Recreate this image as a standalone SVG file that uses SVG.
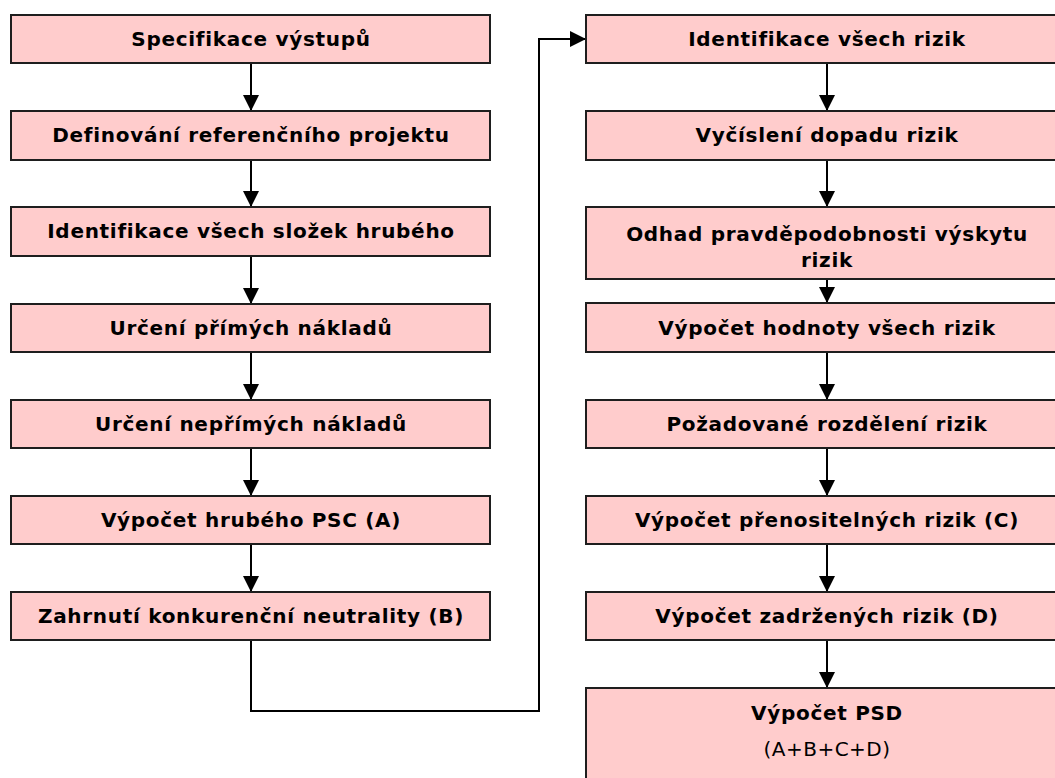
<svg xmlns="http://www.w3.org/2000/svg" width="1055" height="778" viewBox="0 0 1055 778">
<style>
.box{fill:#ffcccc;stroke:#1e1e1e;stroke-width:2}
.t{font-family:"DejaVu Sans",Verdana,sans-serif;font-weight:bold;font-size:20px;letter-spacing:0.7px;fill:#000;text-anchor:middle}
.r{font-family:"DejaVu Sans",Verdana,sans-serif;font-size:20px;letter-spacing:0.5px;fill:#000;text-anchor:middle}
.c{fill:none;stroke:#000;stroke-width:2}
</style>
<defs>
<marker id="ah" markerUnits="userSpaceOnUse" markerWidth="16" markerHeight="16" refX="16" refY="8" orient="auto">
<path d="M0,0 L16,8 L0,16 z" fill="#000"/>
</marker>
</defs>
<rect width="1055" height="778" fill="#fff"/>
<g id="connectors">
<line class="c" x1="251" y1="63" x2="251" y2="111" marker-end="url(#ah)"/>
<line class="c" x1="251" y1="160" x2="251" y2="207" marker-end="url(#ah)"/>
<line class="c" x1="251" y1="256" x2="251" y2="304" marker-end="url(#ah)"/>
<line class="c" x1="251" y1="352" x2="251" y2="400" marker-end="url(#ah)"/>
<line class="c" x1="251" y1="448" x2="251" y2="496" marker-end="url(#ah)"/>
<line class="c" x1="251" y1="544" x2="251" y2="592" marker-end="url(#ah)"/>
<path class="c" d="M251,640 V711 H539 V39 H586" marker-end="url(#ah)"/>
<line class="c" x1="827" y1="63" x2="827" y2="111" marker-end="url(#ah)"/>
<line class="c" x1="827" y1="160" x2="827" y2="207" marker-end="url(#ah)"/>
<line class="c" x1="827" y1="279" x2="827" y2="303" marker-end="url(#ah)"/>
<line class="c" x1="827" y1="352" x2="827" y2="400" marker-end="url(#ah)"/>
<line class="c" x1="827" y1="448" x2="827" y2="496" marker-end="url(#ah)"/>
<line class="c" x1="827" y1="544" x2="827" y2="592" marker-end="url(#ah)"/>
<line class="c" x1="827" y1="640" x2="827" y2="688" marker-end="url(#ah)"/>
</g>
<g id="n1"><rect class="box" x="11" y="15" width="479" height="48"/><text class="t" x="251" y="46">Specifikace výstupů</text></g>
<g id="n2"><rect class="box" x="11" y="111" width="479" height="49"/><text class="t" x="251" y="142">Definování referenčního projektu</text></g>
<g id="n3"><rect class="box" x="11" y="207" width="479" height="49"/><text class="t" x="251" y="238">Identifikace všech složek hrubého</text></g>
<g id="n4"><rect class="box" x="11" y="304" width="479" height="48"/><text class="t" x="251" y="335">Určení přímých nákladů</text></g>
<g id="n5"><rect class="box" x="11" y="400" width="479" height="48"/><text class="t" x="251" y="431">Určení nepřímých nákladů</text></g>
<g id="n6"><rect class="box" x="11" y="496" width="479" height="48"/><text class="t" x="251" y="527">Výpočet hrubého PSC (A)</text></g>
<g id="n7"><rect class="box" x="11" y="592" width="479" height="48"/><text class="t" x="251" y="623">Zahrnutí konkurenční neutrality (B)</text></g>
<g id="m1"><rect class="box" x="586" y="15" width="484" height="48"/><text class="t" x="827" y="46">Identifikace všech rizik</text></g>
<g id="m2"><rect class="box" x="586" y="111" width="484" height="49"/><text class="t" x="827" y="142">Vyčíslení dopadu rizik</text></g>
<g id="m3"><rect class="box" x="586" y="207" width="484" height="72"/><text class="t" x="827" y="241">Odhad pravděpodobnosti výskytu</text><text class="t" x="827" y="267">rizik</text></g>
<g id="m4"><rect class="box" x="586" y="303" width="484" height="49"/><text class="t" x="827" y="335">Výpočet hodnoty všech rizik</text></g>
<g id="m5"><rect class="box" x="586" y="400" width="484" height="48"/><text class="t" x="827" y="431">Požadované rozdělení rizik</text></g>
<g id="m6"><rect class="box" x="586" y="496" width="484" height="48"/><text class="t" x="827" y="527">Výpočet přenositelných rizik (C)</text></g>
<g id="m7"><rect class="box" x="586" y="592" width="484" height="48"/><text class="t" x="827" y="623">Výpočet zadržených rizik (D)</text></g>
<g id="m8"><rect class="box" x="586" y="688" width="484" height="95"/><text class="t" x="827" y="720">Výpočet PSD</text><text class="r" x="827" y="756">(A+B+C+D)</text></g>
</svg>
